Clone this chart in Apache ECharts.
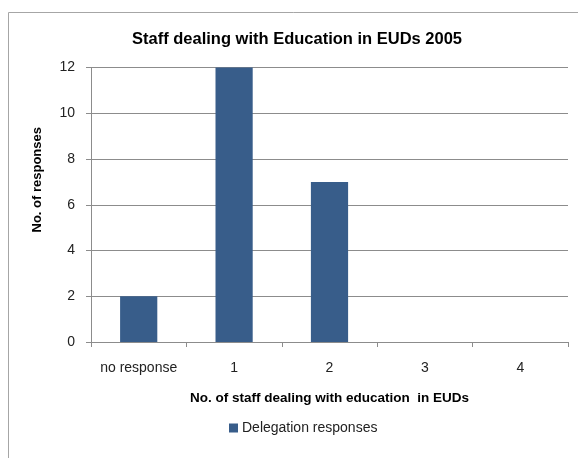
<!DOCTYPE html>
<html>
<head>
<meta charset="utf-8">
<script src="https://cdn.jsdelivr.net/npm/echarts@6/dist/echarts.min.js"></script>
<style>
  html, body { margin: 0; padding: 0; background: #fff; }
  #chart { width: 578px; height: 458px; }
</style>
</head>
<body>
<div id="chart"></div>
<script>
// Number of staff per delegation working on education, 2005 survey
const categories = ['no response', '1', '2', '3', '4'];
const delegationResponses = [2, 12, 7, 0, 0];
const yTicks = { min: 0, max: 12, interval: 2 };

const FONT = '"Liberation Sans", Arial, sans-serif';

const chart = echarts.init(document.getElementById('chart'), null, { renderer: 'canvas' });

chart.setOption({
  animation: false,
  backgroundColor: '#ffffff',
  graphic: [{
    type: 'rect',
    shape: { x: 8.5, y: 12.5, width: 600, height: 500 },
    style: { fill: 'none', stroke: '#a6a6a6', lineWidth: 1 },
    silent: true
  }],
  title: {
    text: 'Staff dealing with Education in EUDs 2005',
    left: 292,
    textAlign: 'center',
    top: 26,
    textStyle: { fontFamily: FONT, fontSize: 16.5, fontWeight: 'bold', color: '#000' }
  },
  grid: { left: 91, right: 10, top: 67.5, bottom: 116, containLabel: false },
  legend: {
    bottom: 18,
    left: 224,
    itemWidth: 9,
    itemHeight: 9,
    itemGap: 10,
    icon: 'rect',
    textStyle: { fontFamily: FONT, fontSize: 14, color: '#222', padding: [0, 0, 0, -1] },
    data: ['Delegation responses']
  },
  xAxis: {
    type: 'category',
    data: categories,
    name: 'No. of staff dealing with education  in EUDs',
    nameLocation: 'middle',
    nameGap: 49,
    nameTextStyle: { fontFamily: FONT, fontSize: 13.5, fontWeight: 'bold', color: '#000' },
    axisLine: { lineStyle: { color: '#8c8c8c' } },
    axisTick: { show: true, interval: 0, alignWithLabel: false, length: 5, lineStyle: { color: '#8c8c8c' } },
    axisLabel: { interval: 0, fontFamily: FONT, fontSize: 14, color: '#222', margin: 19 },
    splitLine: { show: false }
  },
  yAxis: {
    type: 'value',
    min: yTicks.min,
    max: yTicks.max,
    interval: yTicks.interval,
    name: 'No. of responses',
    nameLocation: 'middle',
    nameGap: 47,
    nameTextStyle: { fontFamily: FONT, fontSize: 13, fontWeight: 'bold', color: '#000', padding: [0, 0, 0, 50] },
    axisLine: { show: true, lineStyle: { color: '#8c8c8c' } },
    axisTick: { show: true, length: 5, lineStyle: { color: '#8c8c8c' } },
    axisLabel: { fontFamily: FONT, fontSize: 14, color: '#222', margin: 16 },
    splitLine: { show: true, lineStyle: { color: '#8c8c8c', width: 1 } }
  },
  series: [{
    name: 'Delegation responses',
    type: 'bar',
    data: delegationResponses,
    barWidth: '39%',
    itemStyle: { color: '#385d8a' }
  }]
});
</script>
</body>
</html>
